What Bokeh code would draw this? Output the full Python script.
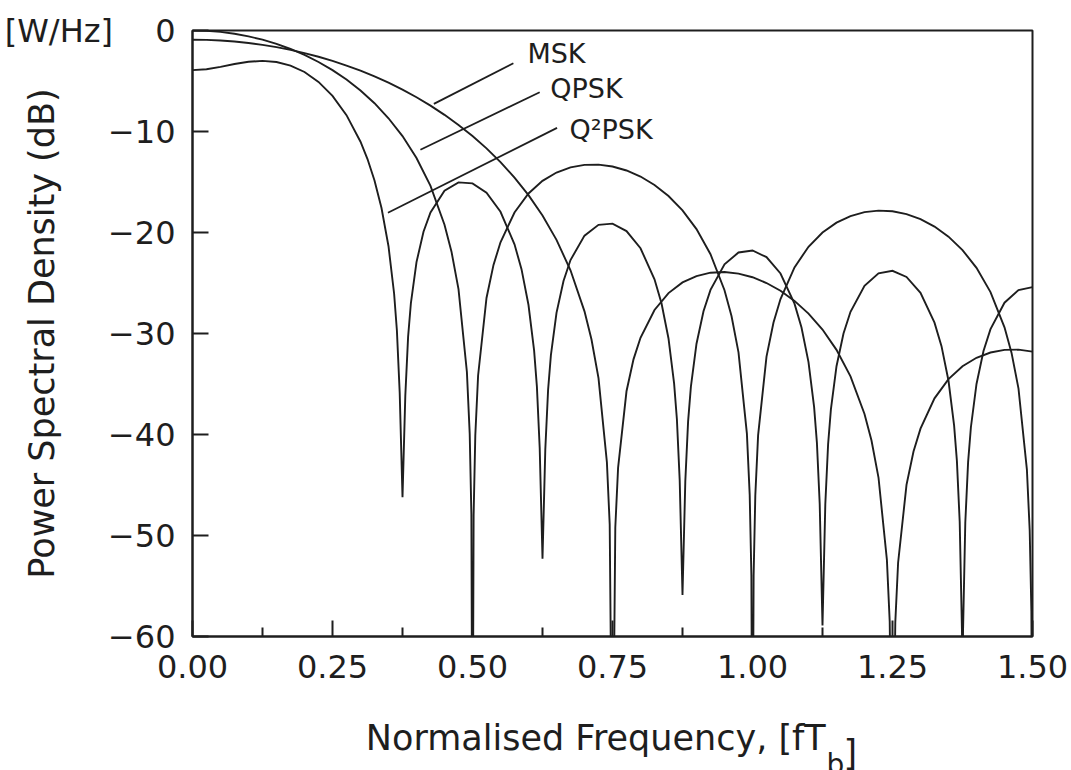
from bokeh.plotting import figure
from bokeh.models import Range1d, FixedTicker, Label
from bokeh.embed import file_html
from bokeh.resources import INLINE

# ---------------- data ----------------
qpsk_f = [0, .025, .05, .075, .1, .125, .15, .175, .2, .225, .25, .275, .3, .325, .35, .375, .4, .425, .45, .4625, .475,
          .49, .495, .498, .5, .502, .505, .51,
          .525, .5375, .55, .575, .6, .625, .65, .675, .7, .725, .75, .775, .8, .825, .85, .875, .9, .925, .95, .9625, .975,
          .99, .995, .998, 1.0, 1.002, 1.005, 1.01,
          1.025, 1.0375, 1.05, 1.075, 1.1, 1.125, 1.15, 1.175, 1.2, 1.225, 1.25, 1.275, 1.3, 1.325, 1.35, 1.375, 1.4, 1.425, 1.45, 1.4625, 1.475,
          1.49, 1.495, 1.498, 1.5]
qpsk_db = [0, -0.04, -0.14, -0.32, -0.58, -0.91, -1.33, -1.83, -2.42, -3.12, -3.92, -4.86, -5.94, -7.20, -8.69, -10.45, -12.62, -15.39, -19.23, -21.90, -25.61,
           -33.81, -39.91, -47.9, -80, -48.0, -40.09, -34.16,
           -26.48, -23.21, -20.97, -18.02, -16.14, -14.89, -14.06, -13.55, -13.30, -13.28, -13.47, -13.86, -14.46, -15.30, -16.39, -17.81, -19.66, -22.15, -25.72, -28.27, -31.86,
           -39.92, -45.98, -53.96, -80, -54.0, -46.07, -40.09,
           -32.29, -28.92, -26.59, -23.45, -21.41, -20.00, -19.02, -18.37, -17.98, -17.83, -17.90, -18.18, -18.68, -19.41, -20.41, -21.74, -23.50, -25.90, -29.39, -31.90, -35.45,
           -43.47, -49.51, -57.49, -80]

msk_f = [0, .025, .05, .075, .1, .125, .15, .175, .2, .225, .25, .275, .3, .325, .35, .375, .4, .425, .45, .475,
         .5, .525, .55, .575, .6, .625, .65, .675, .7, .7125, .725,
         .74, .745, .75, .755, .76,
         .775, .7875, .8, .825, .85, .875, .9, .925, .95, .975, 1.0, 1.025, 1.05, 1.075, 1.1, 1.125, 1.15, 1.175, 1.2, 1.2125, 1.225,
         1.24, 1.245, 1.25, 1.255, 1.26,
         1.275, 1.2875, 1.3, 1.325, 1.35, 1.375, 1.4, 1.425, 1.45, 1.475, 1.5]
msk_db = [-0.91, -0.93, -0.99, -1.09, -1.24, -1.42, -1.65, -1.92, -2.24, -2.60, -3.01, -3.47, -3.98, -4.55, -5.17, -5.86, -6.61, -7.44, -8.35, -9.35,
          -10.45, -11.67, -13.03, -14.56, -16.30, -18.32, -20.73, -23.74, -27.81, -30.60, -34.42,
          -42.75, -48.9, -80, -49.2, -43.27,
          -35.72, -32.56, -30.42, -27.67, -26.00, -24.94, -24.31, -23.98, -23.91, -24.07, -24.43, -25.00, -25.77, -26.77, -28.03, -29.61, -31.62, -34.25, -37.97, -40.60, -44.26,
          -52.41, -58.5, -80, -58.6, -52.70,
          -44.99, -41.68, -39.42, -36.42, -34.52, -33.24, -32.40, -31.88, -31.62, -31.60, -31.79]

q2psk_f = [0, .025, .05, .075, .1, .125, .15, .175, .2, .225, .25, .275, .3, .3125, .325, .3375, .35,
           .36, .365, .37, .375, .38, .385, .39,
           .4, .4125, .425, .45, .475, .5, .525, .55, .575, .5875, .6,
           .61, .615, .62, .625, .63, .635, .64,
           .65, .6625, .675, .7, .725, .75, .775, .8, .825, .8375, .85,
           .86, .865, .87, .875, .88, .885, .89,
           .9, .9125, .925, .95, .975, 1.0, 1.025, 1.05, 1.075, 1.0875, 1.1,
           1.11, 1.115, 1.12, 1.125, 1.13, 1.135, 1.14,
           1.15, 1.1625, 1.175, 1.2, 1.225, 1.25, 1.275, 1.3, 1.325, 1.3375, 1.35,
           1.36, 1.365, 1.37, 1.375, 1.38, 1.385, 1.39,
           1.4, 1.4125, 1.425, 1.45, 1.475, 1.5]
q2psk_db = [-3.92, -3.83, -3.60, -3.32, -3.10, -3.01, -3.12, -3.47, -4.11, -5.09, -6.47, -8.38, -11.01, -12.73, -14.85, -17.57, -21.36,
            -26.04, -29.70, -35.87, -46.2, -36.18, -30.33, -26.98,
            -22.93, -19.93, -18.02, -15.87, -15.04, -15.14, -16.07, -17.95, -21.17, -23.63, -27.18,
            -31.68, -35.26, -41.34, -52.3, -41.49, -35.57, -32.15,
            -27.96, -24.80, -22.73, -20.31, -19.24, -19.12, -19.86, -21.56, -24.63, -27.01, -30.49,
            -34.94, -38.49, -44.54, -55.9, -44.65, -38.70, -35.26,
            -31.01, -27.80, -25.68, -23.15, -21.98, -21.78, -22.44, -24.06, -27.05, -29.40, -32.84,
            -37.27, -40.80, -46.85, -58.9, -46.93, -40.96, -37.51,
            -33.24, -30.00, -27.85, -25.27, -24.04, -23.79, -24.40, -25.98, -28.93, -31.25, -34.68,
            -39.09, -42.61, -48.65, -62.0, -48.71, -42.74, -39.28,
            -35.00, -31.74, -29.57, -26.95, -25.70, -25.41]

x_ticks = [0.0, 0.25, 0.5, 0.75, 1.0, 1.25, 1.5]
x_minor = [0.125, 0.375, 0.625, 0.875, 1.125, 1.375]
x_tick_labels = ["0.00", "0.25", "0.50", "0.75", "1.00", "1.25", "1.50"]
y_ticks = [0, -10, -20, -30, -40, -50, -60]
y_tick_labels = ["[W/Hz]\u2003\u00a00", "\u221210", "\u221220", "\u221230", "\u221240", "\u221250", "\u221260"]

series_names = ["MSK", "QPSK", "Q\u00b2PSK"]
# leader lines (annotation): from text to curve
lead_x0 = [0.573, 0.620, 0.651]
lead_y0 = [-3.24, -6.11, -9.64]
lead_x1 = [0.431, 0.407, 0.349]
lead_y1 = [-7.26, -11.81, -18.05]
name_x = [0.598, 0.639, 0.673]
name_y = [-2.28, -5.74, -9.85]

# ---------------- figure ----------------
INK = "#1e1e1e"
FONT = "DejaVu Sans"

p = figure(width=1071, height=770, output_backend="svg", toolbar_location=None,
           x_range=Range1d(0, 1.5), y_range=Range1d(-60, 0),
           min_border_left=192, min_border_right=39, min_border_top=30, min_border_bottom=134)
p.grid.visible = False
p.background_fill_color = "white"
p.border_fill_color = "white"
p.outline_line_color = INK
p.outline_line_width = 2

for f, d in ((qpsk_f, qpsk_db), (msk_f, msk_db), (q2psk_f, q2psk_db)):
    p.line(f, d, line_color=INK, line_width=1.9, line_join="miter")

p.segment(x0=lead_x0, y0=lead_y0, x1=lead_x1, y1=lead_y1, line_color=INK, line_width=1.8)

for nm, nx, ny in zip(series_names, name_x, name_y):
    p.add_layout(Label(x=nx, y=ny, text=nm, text_font=FONT, text_font_size="27px",
                       text_color=INK, text_baseline="middle", text_align="left"))

# x axis
xa = p.xaxis[0]
xa.ticker = FixedTicker(ticks=x_ticks, minor_ticks=x_minor)
xa.major_label_overrides = dict(zip(x_ticks, x_tick_labels))
xa.major_tick_in = 16
xa.major_tick_out = 0
xa.minor_tick_in = 9
xa.minor_tick_out = 0
xa.axis_line_width = 2
xa.axis_line_color = INK
xa.major_tick_line_width = 2
xa.minor_tick_line_width = 2
xa.major_tick_line_color = INK
xa.minor_tick_line_color = INK
xa.major_label_text_font = FONT
xa.major_label_text_font_size = "32px"
xa.major_label_text_color = INK
xa.major_label_standoff = 18
xa.axis_label = "Normalised Frequency, [fT\u00a0\u00a0\u00a0"
xa.axis_label_text_font = FONT
xa.axis_label_text_font_size = "35px"
xa.axis_label_text_font_style = "normal"
xa.axis_label_text_color = INK
xa.axis_label_standoff = 37

# y axis
ya = p.yaxis[0]
ya.ticker = FixedTicker(ticks=y_ticks)
ya.major_label_overrides = dict(zip(y_ticks, y_tick_labels))
ya.major_tick_in = 16
ya.major_tick_out = 0
ya.minor_tick_line_color = None
ya.axis_line_width = 2
ya.axis_line_color = INK
ya.major_tick_line_width = 2
ya.major_tick_line_color = INK
ya.major_label_text_font = FONT
ya.major_label_text_font_size = "32px"
ya.major_label_text_color = INK
ya.major_label_standoff = 17
ya.axis_label = "Power Spectral Density (dB)"
ya.axis_label_text_font = FONT
ya.axis_label_text_font_size = "35px"
ya.axis_label_text_font_style = "normal"
ya.axis_label_text_color = INK
ya.axis_label_standoff = -60

# subscript and closing bracket of the x label (canvas pixels; kept in the narrow right panel)
p.add_layout(Label(x=826, y=764, x_units="canvas", y_units="canvas", text="b", text_font=FONT,
                   text_font_size="28px", text_color=INK, text_baseline="alphabetic", text_align="left"), "right")
p.add_layout(Label(x=843, y=752, x_units="canvas", y_units="canvas", text="]", text_font=FONT,
                   text_font_size="35px", text_color=INK, text_baseline="alphabetic", text_align="left"), "right")

open("out.html", "w").write(file_html(p, INLINE))
